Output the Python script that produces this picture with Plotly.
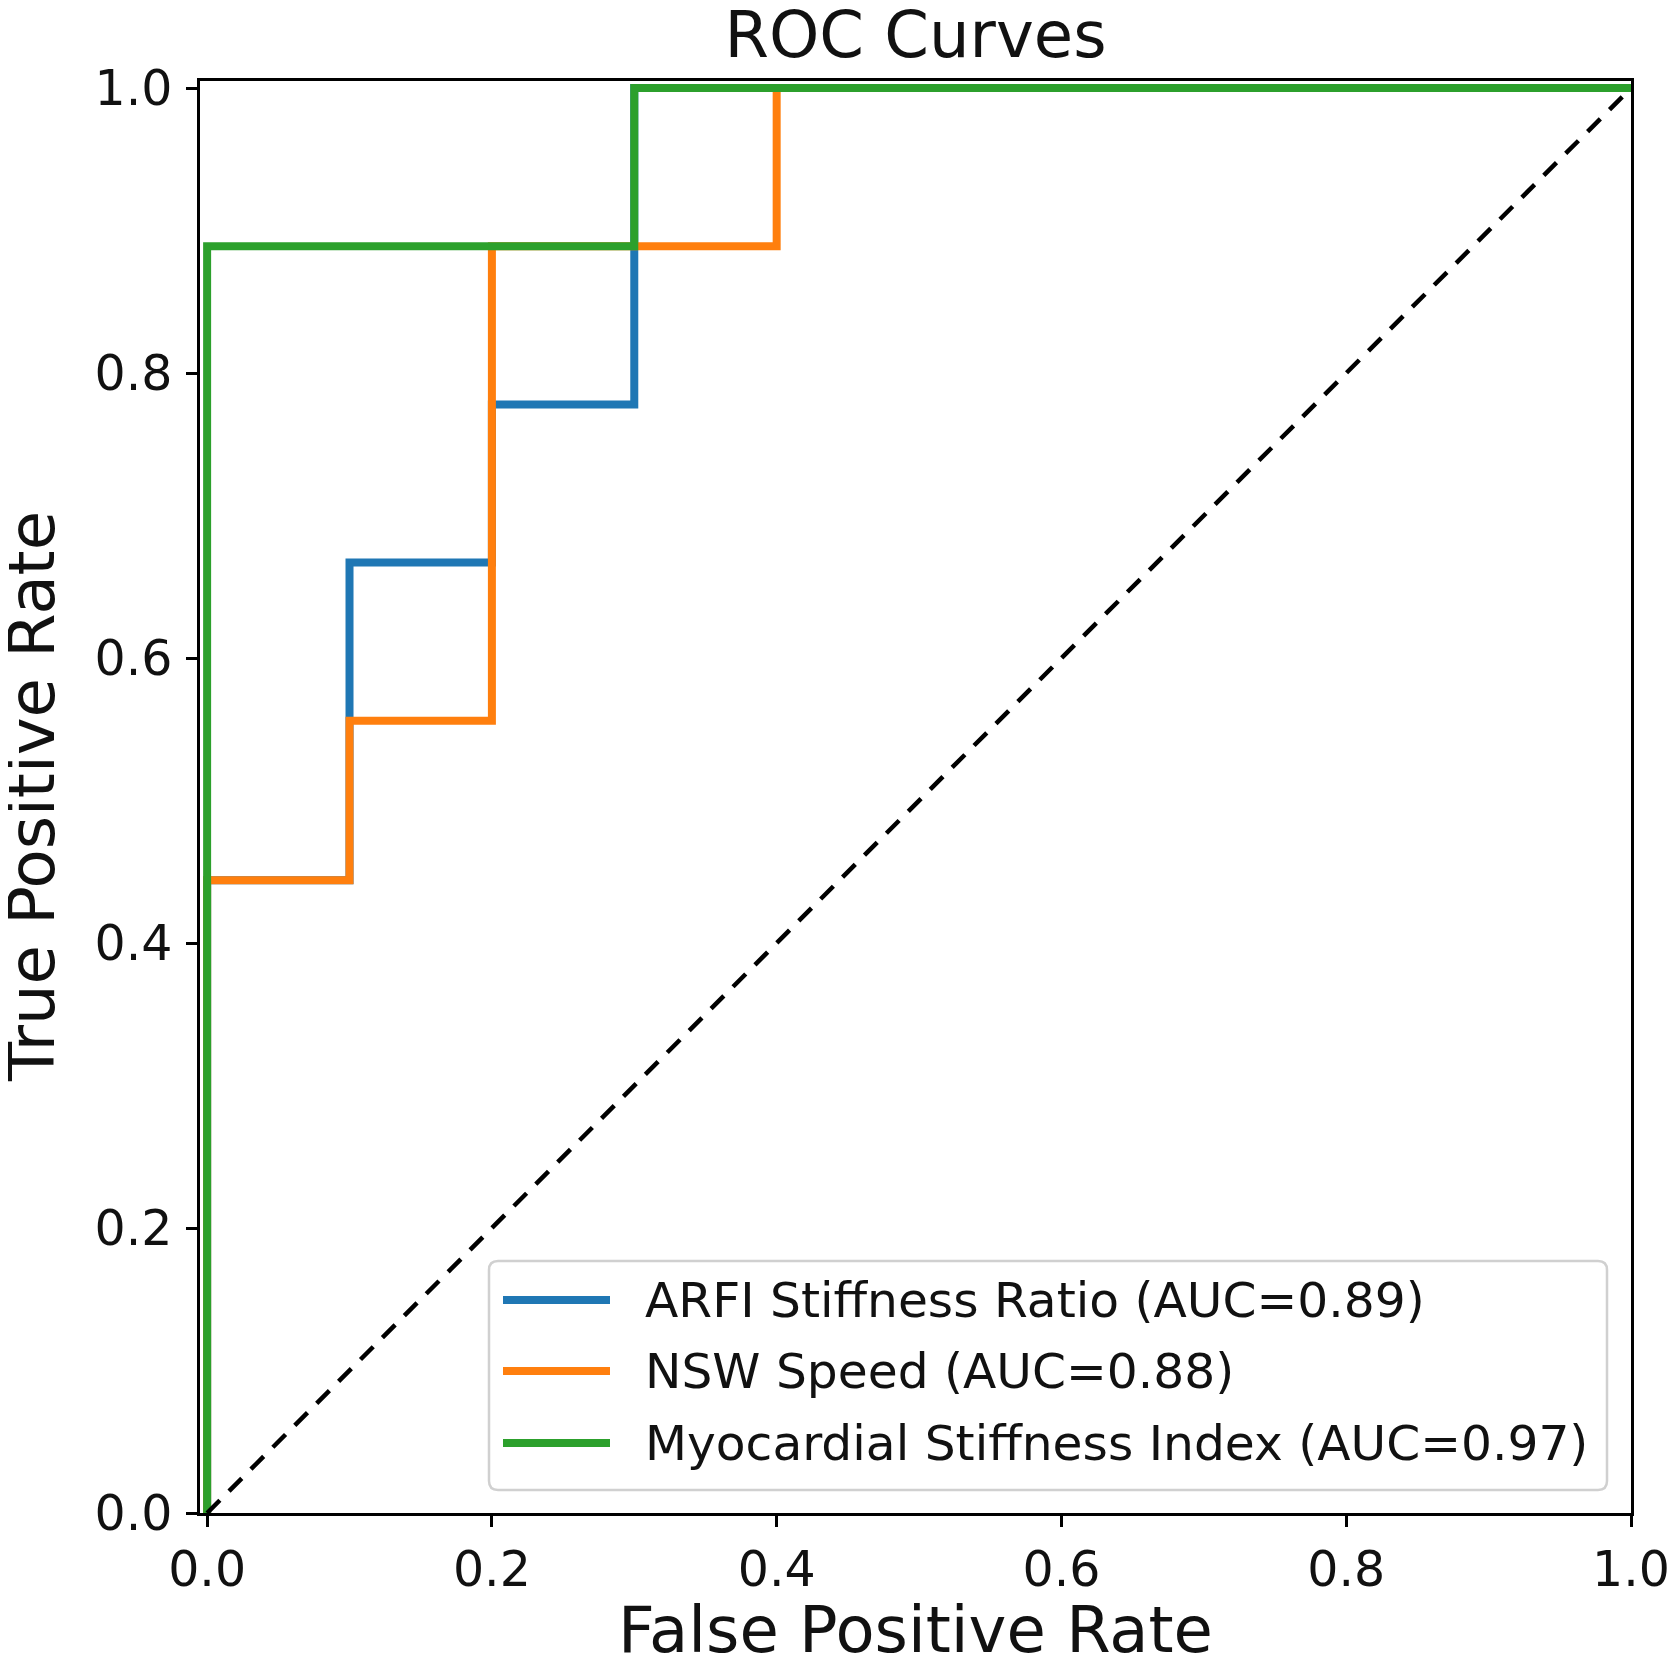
import plotly.graph_objects as go

# ---- data ----
series_names = ["ARFI Stiffness Ratio", "NSW Speed", "Myocardial Stiffness Index"]
series_auc = [0.89, 0.88, 0.97]
series_colors = ["#1f77b4", "#ff7f0e", "#2ca02c"]

arfi_fpr = [0.0, 0.0, 0.1, 0.1, 0.2, 0.2, 0.3, 0.3, 1.0]
arfi_tpr = [0.0, 0.444, 0.444, 0.667, 0.667, 0.778, 0.778, 1.0, 1.0]

nsw_fpr = [0.0, 0.0, 0.1, 0.1, 0.2, 0.2, 0.4, 0.4, 1.0]
nsw_tpr = [0.0, 0.444, 0.444, 0.556, 0.556, 0.889, 0.889, 1.0, 1.0]

msi_fpr = [0.0, 0.0, 0.3, 0.3, 1.0]
msi_tpr = [0.0, 0.889, 0.889, 1.0, 1.0]

chance_x = [0.0, 1.0]
chance_y = [0.0, 1.0]

tick_vals = [0.0, 0.2, 0.4, 0.6, 0.8, 1.0]
tick_text = ["0.0", "0.2", "0.4", "0.6", "0.8", "1.0"]

# ---- layout geometry (page body has an 8px margin) ----
OFF = 8
W, H = 1678 - OFF, 1667 - OFF
PL, PR, PT, PB = 200 - OFF, 1631 - OFF, 81 - OFF, 1513 - OFF   # plot box in figure px
L, R, T, B = PL, W - PR, PT, H - PB
PW, PH = PR - PL, PB - PT
FONT = "DejaVu Sans"
TXT = "#111111"


def px(x):
    # x given in screenshot px
    return (x - OFF - PL) / PW


def py(y):
    return (PB - (y - OFF)) / PH


fig = go.Figure()
curves = [(arfi_fpr, arfi_tpr), (nsw_fpr, nsw_tpr), (msi_fpr, msi_tpr)]
for (fx, ty), name, auc, col in zip(curves, series_names, series_auc, series_colors):
    fig.add_trace(go.Scatter(
        x=fx, y=ty, mode="lines", name=f"{name} (AUC={auc:.2f})",
        line=dict(color=col, width=8), showlegend=False, hoverinfo="skip"))

fig.add_trace(go.Scatter(
    x=chance_x, y=chance_y, mode="lines",
    line=dict(color="black", width=4.5, dash="18px,13px"),
    showlegend=False, hoverinfo="skip"))

# ---- custom legend (matplotlib-like) ----
bx0, bx1, by0, by1, rr = 489, 1607, 1261, 1490, 9


def rounded_path(x0, y0, x1, y1, r):
    pts = [
        f"M {px(x0 + r)} {py(y0)}",
        f"L {px(x1 - r)} {py(y0)}",
        f"Q {px(x1)} {py(y0)} {px(x1)} {py(y0 + r)}",
        f"L {px(x1)} {py(y1 - r)}",
        f"Q {px(x1)} {py(y1)} {px(x1 - r)} {py(y1)}",
        f"L {px(x0 + r)} {py(y1)}",
        f"Q {px(x0)} {py(y1)} {px(x0)} {py(y1 - r)}",
        f"L {px(x0)} {py(y0 + r)}",
        f"Q {px(x0)} {py(y0)} {px(x0 + r)} {py(y0)}",
        "Z",
    ]
    return " ".join(pts)


shapes = [dict(type="path", xref="paper", yref="paper",
               path=rounded_path(bx0, by0, bx1, by1, rr),
               fillcolor="rgba(255,255,255,0.8)",
               line=dict(color="#d0d0d0", width=2.5), layer="above")]
annotations = []
rows = [1300, 1371, 1443]
for yrow, name, auc, col in zip(rows, series_names, series_auc, series_colors):
    shapes.append(dict(type="line", xref="paper", yref="paper",
                       x0=px(503), x1=px(610), y0=py(yrow), y1=py(yrow),
                       line=dict(color=col, width=8), layer="above"))
    annotations.append(dict(xref="paper", yref="paper", x=px(643), y=py(yrow),
                            xanchor="left", yanchor="middle", showarrow=False,
                            text=f"{name} (AUC={auc:.2f})",
                            font=dict(family=FONT, size=48.7, color=TXT)))

# y-axis title (placed as a rotated annotation so it can sit at the edge)
annotations.append(dict(xref="paper", yref="paper", x=px(32), y=py(797),
                        xanchor="center", yanchor="middle", showarrow=False,
                        textangle=-90, text="True Positive Rate",
                        font=dict(family=FONT, size=64, color=TXT)))

axis_common = dict(
    showline=True, mirror=True, linecolor="black", linewidth=2.5,
    ticks="outside", ticklen=11, tickwidth=2.5, tickcolor="black",
    showgrid=False, zeroline=False, automargin=False,
    tickvals=tick_vals, ticktext=tick_text,
    tickfont=dict(family=FONT, size=49, color=TXT),
)

fig.update_layout(
    width=W, height=H,
    margin=dict(l=L, r=R, t=T, b=B),
    paper_bgcolor="white", plot_bgcolor="white",
    title=dict(text="ROC Curves", x=0.5, xref="paper", xanchor="center",
               y=1 - 27 / H, yref="container", yanchor="middle",
               font=dict(family=FONT, size=64, color=TXT)),
    xaxis=dict(range=[-0.005, 1.0],
               title=dict(text="False Positive Rate", standoff=21,
                          font=dict(family=FONT, size=64, color=TXT)),
               **axis_common),
    yaxis=dict(range=[0.0, 1.005], ticklabelstandoff=4, **axis_common),
    shapes=shapes,
    annotations=annotations,
)

fig.write_html("out.html")
